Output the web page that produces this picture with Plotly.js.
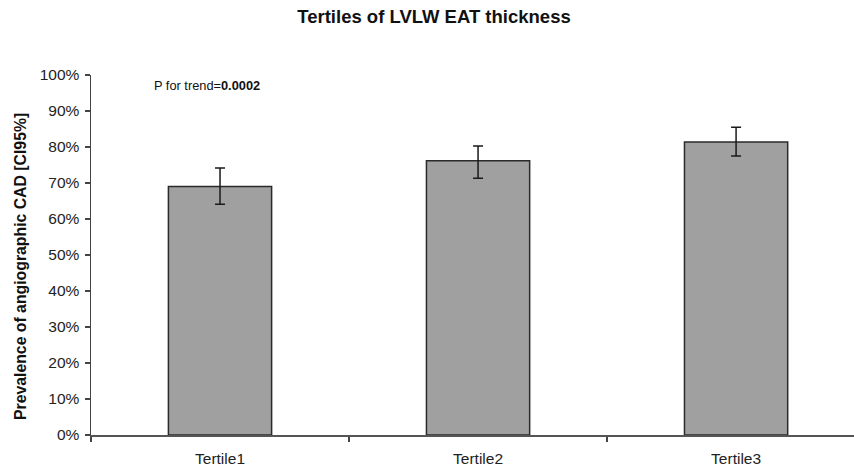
<!DOCTYPE html>
<html>
<head>
<meta charset="utf-8">
<script src="https://cdn.plot.ly/plotly-3.0.1.min.js"></script>
<style>html,body{margin:0;padding:0;background:#fff;}#chart{width:854px;height:467px;}</style>
</head>
<body>
<div id="chart"></div>
<script>
const categories = ["Tertile1", "Tertile2", "Tertile3"];
const prevalence = [69.0, 76.2, 81.4];
const ciLower = [64.1, 71.3, 77.5];
const ciUpper = [74.2, 80.3, 85.5];
const yTickVals = [0, 10, 20, 30, 40, 50, 60, 70, 80, 90, 100];

const trace = {
  type: "bar",
  x: categories,
  y: prevalence,
  width: 0.4,
  marker: { color: "#a0a0a0", line: { color: "#2a2a2a", width: 1.5 } },
  error_y: {
    type: "data",
    symmetric: false,
    array: prevalence.map((v, i) => ciUpper[i] - v),
    arrayminus: prevalence.map((v, i) => v - ciLower[i]),
    color: "#1a1a1a",
    thickness: 1.5,
    width: 5
  },
  hoverinfo: "none"
};

const layout = {
  width: 854,
  height: 467,
  margin: { l: 91, r: 0, t: 75, b: 32 },
  paper_bgcolor: "#ffffff",
  plot_bgcolor: "#ffffff",
  font: { family: "Liberation Sans, Arial, sans-serif", color: "#1a1a1a" },
  showlegend: false,
  title: {
    text: "<b>Tertiles of LVLW EAT thickness</b>",
    font: { size: 18.5, color: "#111" },
    x: 434 / 854, xanchor: "center", xref: "container",
    y: 1 - 17 / 467, yanchor: "middle", yref: "container"
  },
  xaxis: {
    type: "category",
    range: [-0.5, 2.457],
    showline: true, linecolor: "#555", linewidth: 1.5,
    ticks: "outside", tickson: "boundaries", ticklen: 5, tickcolor: "#444", tickwidth: 1.5,
    tickfont: { size: 15.5, color: "#222" },
    ticklabelstandoff: 9,
    showgrid: false, zeroline: false, fixedrange: true
  },
  yaxis: {
    range: [0, 100],
    tickvals: yTickVals,
    ticktext: yTickVals.map(v => v + "%"),
    showline: true, linecolor: "#444", linewidth: 1.5,
    ticks: "outside", ticklen: 5, tickcolor: "#444", tickwidth: 1.5,
    tickfont: { size: 15.5, color: "#222" },
    ticklabelstandoff: 2,
    showgrid: false, zeroline: false
  },
  annotations: [{
    text: "P for trend=<b>0.0002</b>",
    xref: "paper", yref: "paper",
    x: 0.0, y: (435 - 85) / 360,
    xanchor: "left", yanchor: "middle",
    xshift: 61,
    showarrow: false,
    font: { size: 12.8, color: "#111" }
  }, {
    text: "<b>Prevalence of angiographic CAD [CI95%]</b>",
    xref: "paper", yref: "paper",
    x: 0.0, y: (435 - 267) / 360,
    xanchor: "center", yanchor: "middle",
    xshift: -71,
    textangle: -90,
    showarrow: false,
    font: { size: 15.8, color: "#111" }
  }]
};

Plotly.newPlot("chart", [trace], layout, { displayModeBar: false, staticPlot: true });
</script>
</body>
</html>
